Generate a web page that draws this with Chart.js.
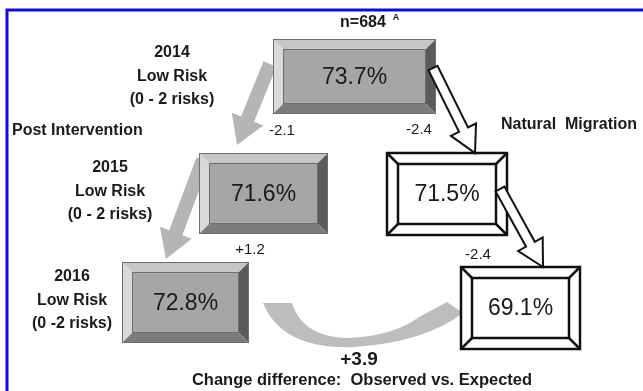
<!DOCTYPE html>
<html lang="en">

<head>
    <meta charset="UTF-8">
    <title>Low Risk Migration</title>
    <script src="https://cdn.jsdelivr.net/npm/chart.js"></script>
    <style>
        html, body {
            margin: 0;
            padding: 0;
            background-color: #ffffff;
        }

        .chart-container {
            width: 643px;
            height: 391px;
        }
    </style>
</head>

<body>
    <div class="chart-container">
        <canvas id="migrationChart"></canvas>
    </div>

    <script>
        // data
        const years = ['2014', '2015', '2016'];
        const riskLabels = ['(0 - 2 risks)', '(0 - 2 risks)', '(0 -2 risks)'];
        const observed = [73.7, 71.6, 72.8];      // post intervention
        const expected = [73.7, 71.5, 69.1];      // natural migration
        const observedChange = [-2.1, 1.2];
        const expectedChange = [-2.4, -2.4];
        const changeDifference = 3.9;
        const sampleSize = 684;

        // layout (canvas units, mapped through hidden linear scales)
        const obsBoxes = [[273, 39, 436, 114], [199, 153, 328, 234], [122, 262, 249, 343]];
        const expBoxes = [null, [387, 153, 507, 235], [461, 267, 580, 349]];
        const yearLabelPos = [[172, 53], [110, 168], [72, 277]];
        const obsChangePos = [[282, 131], [250, 250]];
        const expChangePos = [[419, 130], [478, 255]];
        const grayArrows = [[270, 64, 237, 145], [203, 160, 166, 259]];
        const whiteArrows = [[433, 68, 475, 153], [500, 189, 543, 267]];

        const FONT = '"Liberation Sans", Arial, sans-serif';
        const fmt = v => (v > 0 ? '+' : '') + v.toFixed(1);

        function px(chart, x, y) {
            return [chart.scales.x.getPixelForValue(x), chart.scales.y.getPixelForValue(y)];
        }

        function poly(ctx, pts) {
            ctx.beginPath();
            ctx.moveTo(pts[0][0], pts[0][1]);
            for (let i = 1; i < pts.length; i++) ctx.lineTo(pts[i][0], pts[i][1]);
            ctx.closePath();
        }

        function arrowPoints(x1, y1, x2, y2, shaft, head, headLen) {
            const len = Math.hypot(x2 - x1, y2 - y1);
            const ux = (x2 - x1) / len, uy = (y2 - y1) / len;
            const nx = -uy, ny = ux;
            const bx = x2 - ux * headLen, by = y2 - uy * headLen;
            return [
                [x1 + nx * shaft, y1 + ny * shaft],
                [bx + nx * shaft, by + ny * shaft],
                [bx + nx * head, by + ny * head],
                [x2, y2],
                [bx - nx * head, by - ny * head],
                [bx - nx * shaft, by - ny * shaft],
                [x1 - nx * shaft, y1 - ny * shaft]
            ];
        }

        function grayBox(ctx, b, label) {
            const [x1, y1, x2, y2] = b;
            const d = 10;
            const ix1 = x1 + d, iy1 = y1 + d, ix2 = x2 - d, iy2 = y2 - d;
            ctx.fillStyle = '#c6c6c6';
            poly(ctx, [[x1, y1], [x2, y1], [ix2, iy1], [ix1, iy1]]); ctx.fill();
            ctx.fillStyle = '#d9d9d9';
            poly(ctx, [[x1, y1], [ix1, iy1], [ix1, iy2], [x1, y2]]); ctx.fill();
            ctx.fillStyle = '#5b5b5b';
            poly(ctx, [[x2, y1], [x2, y2], [ix2, iy2], [ix2, iy1]]); ctx.fill();
            ctx.fillStyle = '#7c7c7c';
            poly(ctx, [[x1, y2], [ix1, iy2], [ix2, iy2], [x2, y2]]); ctx.fill();
            ctx.fillStyle = '#a6a6a6';
            ctx.fillRect(ix1, iy1, ix2 - ix1, iy2 - iy1);
            ctx.strokeStyle = '#6e6e6e';
            ctx.lineWidth = 1;
            ctx.strokeRect(x1 + 0.5, y1 + 0.5, x2 - x1 - 1, y2 - y1 - 1);
            ctx.strokeRect(ix1 + 0.5, iy1 + 0.5, ix2 - ix1 - 1, iy2 - iy1 - 1);
            ctx.fillStyle = '#1a1a1a';
            ctx.font = '23px ' + FONT;
            ctx.textAlign = 'center';
            ctx.textBaseline = 'middle';
            ctx.fillText(label, (x1 + x2) / 2, (y1 + y2) / 2 + 1);
        }

        function whiteBox(ctx, b, label) {
            const [x1, y1, x2, y2] = b;
            const d = 11;
            const ix1 = x1 + d, iy1 = y1 + d, ix2 = x2 - d, iy2 = y2 - d;
            ctx.fillStyle = '#ffffff';
            ctx.fillRect(x1, y1, x2 - x1, y2 - y1);
            ctx.strokeStyle = '#111111';
            ctx.lineWidth = 2.5;
            ctx.strokeRect(x1, y1, x2 - x1, y2 - y1);
            ctx.strokeRect(ix1, iy1, ix2 - ix1, iy2 - iy1);
            ctx.beginPath();
            ctx.moveTo(x1, y1); ctx.lineTo(ix1, iy1);
            ctx.moveTo(x2, y1); ctx.lineTo(ix2, iy1);
            ctx.moveTo(x1, y2); ctx.lineTo(ix1, iy2);
            ctx.moveTo(x2, y2); ctx.lineTo(ix2, iy2);
            ctx.stroke();
            ctx.fillStyle = '#1a1a1a';
            ctx.font = '23px ' + FONT;
            ctx.textAlign = 'center';
            ctx.textBaseline = 'middle';
            ctx.fillText(label, (x1 + x2) / 2, (y1 + y2) / 2 + 1);
        }

        const diagramPlugin = {
            id: 'diagram',
            afterDraw(chart) {
                const ctx = chart.ctx;
                const P = (x, y) => px(chart, x, y);
                const B = b => [...P(b[0], b[1]), ...P(b[2], b[3])];
                ctx.save();

                // blue frame
                ctx.strokeStyle = '#0a0ae8';
                ctx.lineWidth = 3;
                const f = B([7, 10, 700, 500]);
                ctx.strokeRect(f[0], f[1], f[2] - f[0], f[3] - f[1]);

                // curved gray arrow (observed vs expected)
                ctx.fillStyle = '#bdbdbd';
                ctx.beginPath();
                let p = P(263, 303); ctx.moveTo(p[0], p[1]);
                let c = P(282, 350), e = P(355, 347); ctx.quadraticCurveTo(c[0], c[1], e[0], e[1]);
                c = P(425, 342); e = P(463, 313); ctx.quadraticCurveTo(c[0], c[1], e[0], e[1]);
                p = P(447, 302); ctx.lineTo(p[0], p[1]);
                p = P(419, 317); ctx.lineTo(p[0], p[1]);
                c = P(392, 337); e = P(345, 338); ctx.quadraticCurveTo(c[0], c[1], e[0], e[1]);
                c = P(302, 336); e = P(292, 303); ctx.quadraticCurveTo(c[0], c[1], e[0], e[1]);
                ctx.closePath();
                ctx.fill();

                // gray straight arrows (post intervention)
                ctx.fillStyle = '#b5b5b5';
                grayArrows.forEach(a => {
                    const s = P(a[0], a[1]), t = P(a[2], a[3]);
                    poly(ctx, arrowPoints(s[0], s[1], t[0], t[1], 7, 17, 28));
                    ctx.fill();
                });

                // boxes
                obsBoxes.forEach((b, i) => grayBox(ctx, B(b), observed[i].toFixed(1) + '%'));
                expBoxes.forEach((b, i) => { if (b) whiteBox(ctx, B(b), expected[i].toFixed(1) + '%'); });

                // white outlined arrows (natural migration)
                ctx.fillStyle = '#ffffff';
                ctx.strokeStyle = '#111111';
                ctx.lineWidth = 2;
                ctx.lineJoin = 'miter';
                whiteArrows.forEach(a => {
                    const s = P(a[0], a[1]), t = P(a[2], a[3]);
                    poly(ctx, arrowPoints(s[0], s[1], t[0], t[1], 5, 14, 26));
                    ctx.fill();
                    ctx.stroke();
                });

                // text
                ctx.fillStyle = '#1a1a1a';
                ctx.textBaseline = 'middle';
                ctx.textAlign = 'center';
                ctx.font = 'bold 16px ' + FONT;
                years.forEach((yr, i) => {
                    const q = P(yearLabelPos[i][0], yearLabelPos[i][1]);
                    ctx.fillText(yr, q[0], q[1]);
                    ctx.fillText('Low Risk', q[0], q[1] + 24);
                    ctx.fillText(riskLabels[i], q[0], q[1] + 47);
                });

                ctx.font = '15px ' + FONT;
                observedChange.forEach((v, i) => {
                    const q = P(obsChangePos[i][0], obsChangePos[i][1]);
                    ctx.fillText(fmt(v), q[0], q[1]);
                });
                expectedChange.forEach((v, i) => {
                    const q = P(expChangePos[i][0], expChangePos[i][1]);
                    ctx.fillText(fmt(v), q[0], q[1]);
                });

                ctx.font = 'bold 16px ' + FONT;
                p = P(363, 23);
                ctx.fillText('n=' + sampleSize, p[0], p[1]);
                ctx.font = 'bold 9px ' + FONT;
                p = P(396, 18);
                ctx.fillText('A', p[0], p[1]);

                ctx.font = 'bold 19px ' + FONT;
                p = P(359, 360);
                ctx.fillText(fmt(changeDifference), p[0], p[1]);

                ctx.font = 'bold 16.5px ' + FONT;
                p = P(362, 380);
                ctx.fillText('Change difference:  Observed vs. Expected', p[0], p[1]);

                ctx.textAlign = 'left';
                ctx.font = 'bold 16px ' + FONT;
                p = P(12, 131);
                ctx.fillText('Post Intervention', p[0], p[1]);
                p = P(501, 125);
                ctx.fillText('Natural  Migration', p[0], p[1]);

                ctx.restore();
            }
        };

        new Chart(document.getElementById('migrationChart').getContext('2d'), {
            type: 'scatter',
            data: { datasets: [] },
            options: {
                responsive: true,
                maintainAspectRatio: false,
                animation: false,
                layout: { padding: 0 },
                plugins: {
                    legend: { display: false },
                    tooltip: { enabled: false }
                },
                scales: {
                    x: { type: 'linear', min: 0, max: 643, display: false },
                    y: { type: 'linear', min: 0, max: 391, reverse: true, display: false }
                }
            },
            plugins: [diagramPlugin]
        });
    </script>
</body>

</html>
